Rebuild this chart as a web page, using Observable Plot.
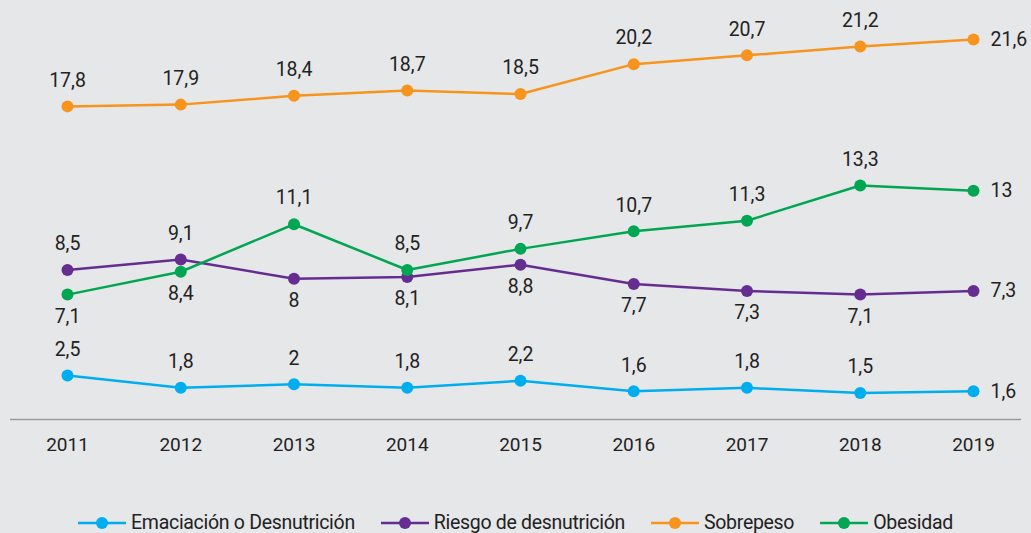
<!DOCTYPE html>
<html><head><meta charset="utf-8">
<script src="https://cdn.jsdelivr.net/npm/d3@7"></script>
<script src="https://cdn.jsdelivr.net/npm/@observablehq/plot@0.6"></script>
<style>
html,body{margin:0;padding:0;background:#e6e7e9;overflow:hidden;}
#wrap{position:relative;width:1031px;height:533px;background:#e6e7e9;font-family:Roboto,sans-serif;}
#legend{position:absolute;top:511px;left:0;width:1031px;display:flex;justify-content:center;gap:26px;font-size:19.5px;letter-spacing:-0.3px;color:#222;}
#legend .it{display:flex;align-items:center;}
#legend svg{margin-right:5px;}
</style></head>
<body><div id="wrap"><div id="chart"></div><div id="legend"></div></div>
<script>
const years = [2011, 2012, 2013, 2014, 2015, 2016, 2017, 2018, 2019];
const seriesNames = ["Emaciación o Desnutrición", "Riesgo de desnutrición", "Sobrepeso", "Obesidad"];
const emaciacion = [2.5, 1.8, 2.0, 1.8, 2.2, 1.6, 1.8, 1.5, 1.6];
const riesgo = [8.5, 9.1, 8.0, 8.1, 8.8, 7.7, 7.3, 7.1, 7.3];
const sobrepeso = [17.8, 17.9, 18.4, 18.7, 18.5, 20.2, 20.7, 21.2, 21.6];
const obesidad = [7.1, 8.4, 11.1, 8.5, 9.7, 10.7, 11.3, 13.3, 13.0];

const colors = ["#00aeef", "#662d91", "#f7941d", "#00a651"];
const valuesBySeries = [emaciacion, riesgo, sobrepeso, obesidad];
// label placement: years where the value label sits below the point
const belowYears = {
  "Obesidad": [2011, 2012],
  "Riesgo de desnutrición": [2013, 2014, 2015, 2016, 2017, 2018]
};

const data = [];
seriesNames.forEach((s, i) => {
  years.forEach((y, j) => data.push({series: s, year: y, value: valuesBySeries[i][j]}));
});
const fmt = v => String(v).replace(".", ",");
const lastYear = years[years.length - 1];
const isRight = d => d.year === lastYear;
const isBelow = d => !isRight(d) && (belowYears[d.series] || []).includes(d.year);
const isAbove = d => !isRight(d) && !isBelow(d);

const font = {fontFamily: "Roboto, sans-serif", fontSize: 19.5, fill: "#222"};

const chart = Plot.plot({
  width: 1031,
  height: 470,
  marginLeft: 67,
  marginRight: 58,
  marginTop: 32,
  marginBottom: 51,
  style: {background: "#e6e7e9", fontFamily: "Roboto, sans-serif"},
  x: {domain: [2011, 2019], axis: null},
  y: {domain: [0, 22], axis: null},
  color: {domain: seriesNames, range: colors},
  marks: [
    Plot.ruleY([0], {stroke: "#9a9a9a", strokeWidth: 1.5, insetLeft: -57, insetRight: -48}),
    Plot.text(years, {x: d => d, frameAnchor: "bottom", dy: 31, text: d => String(d), ...font, fontSize: 19, letterSpacing: "-0.3px"}),
    Plot.line(data, {x: "year", y: "value", z: "series", stroke: "series", strokeWidth: 2.5}),
    Plot.dot(data, {x: "year", y: "value", fill: "series", r: 6}),
    Plot.text(data.filter(isAbove), {x: "year", y: "value", text: d => fmt(d.value), dy: -26, ...font, letterSpacing: "-0.3px"}),
    Plot.text(data.filter(isBelow), {x: "year", y: "value", text: d => fmt(d.value), dy: 22, ...font, letterSpacing: "-0.3px"}),
    Plot.text(data.filter(isRight), {x: "year", y: "value", text: d => fmt(d.value), dx: 17, textAnchor: "start", ...font, letterSpacing: "-0.3px"})
  ]
});
document.getElementById("chart").appendChild(chart);

const legend = document.getElementById("legend");
seriesNames.forEach((s, i) => {
  const it = document.createElement("div");
  it.className = "it";
  it.innerHTML = `<svg width="48" height="20"><line x1="0" x2="48" y1="10" y2="10" stroke="${colors[i]}" stroke-width="2.5"/><circle cx="24" cy="10" r="6" fill="${colors[i]}"/></svg><span>${s}</span>`;
  legend.appendChild(it);
});
</script>
</body></html>
